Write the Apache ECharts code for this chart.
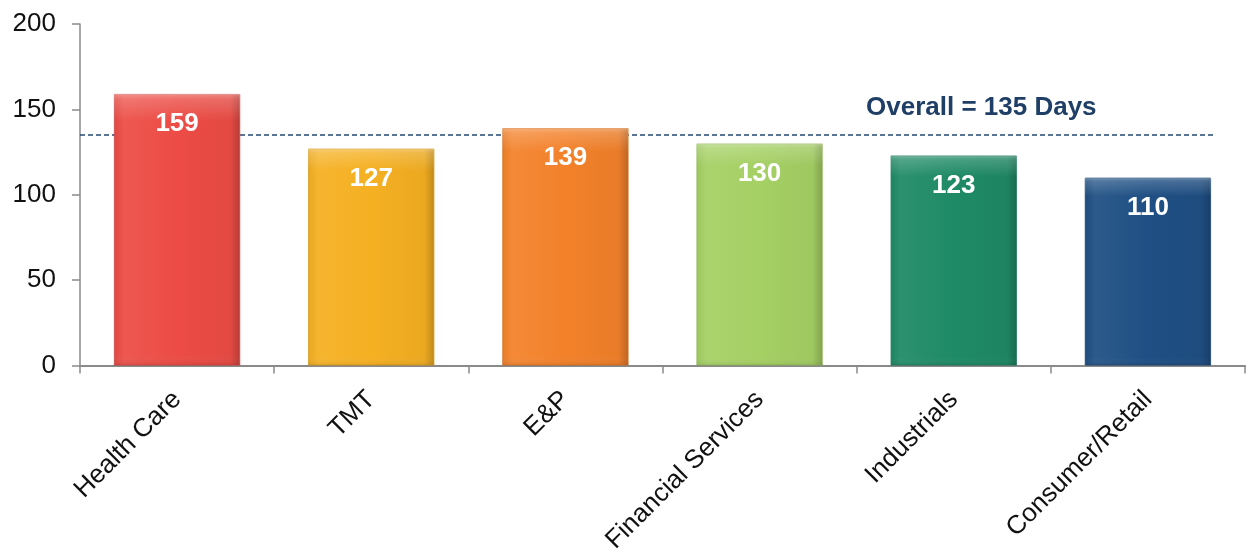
<!DOCTYPE html>
<html>
<head>
<meta charset="utf-8">
<script src="https://cdn.jsdelivr.net/npm/echarts@6/dist/echarts.min.js"></script>
<style>
  html, body { margin: 0; padding: 0; background: #ffffff; }
  #chart { width: 1246px; height: 556px; }
</style>
</head>
<body>
<div id="chart"></div>
<script>
// Average days by sector
const categories = ['Health Care', 'TMT', 'E&P', 'Financial Services', 'Industrials', 'Consumer/Retail'];
const days = [159, 127, 139, 130, 123, 110];
const barColors = ['#ec4c45', '#f5b022', '#f3812a', '#a5d064', '#1f8a66', '#1f4f84'];
const overallDays = 135;
const overallLabel = 'Overall = ' + overallDays + ' Days';
const yTicks = { min: 0, max: 200, interval: 50 };

function shade(hex, amt) {
  const n = parseInt(hex.slice(1), 16);
  let r = (n >> 16) & 255, g = (n >> 8) & 255, b = n & 255;
  const f = (c) => Math.max(0, Math.min(255, Math.round(amt < 0 ? c * (1 + amt) : c + (255 - c) * amt)));
  return 'rgb(' + f(r) + ',' + f(g) + ',' + f(b) + ')';
}

// Bevelled bars: darker side edges, lighter top rim
const barData = days.map((v, i) => ({
  value: v,
  itemStyle: {
    color: new echarts.graphic.LinearGradient(0, 0, 1, 0, [
      { offset: 0, color: shade(barColors[i], -0.05) },
      { offset: 0.08, color: shade(barColors[i], 0.06) },
      { offset: 0.5, color: barColors[i] },
      { offset: 0.92, color: shade(barColors[i], -0.04) },
      { offset: 1, color: shade(barColors[i], -0.22) }
    ]),
    borderColor: shade(barColors[i], -0.12),
    borderWidth: 0.8
  }
}));

const rimData = days.map((v) => ({
  value: v,
  itemStyle: {
    color: new echarts.graphic.LinearGradient(0, 0, 0, 1, [
      { offset: 0, color: 'rgba(255,255,255,0.35)' },
      { offset: 0.02, color: 'rgba(255,255,255,0.18)' },
      { offset: 0.1, color: 'rgba(255,255,255,0.0)' },
      { offset: 0.96, color: 'rgba(255,255,255,0.0)' },
      { offset: 1, color: 'rgba(0,0,0,0.08)' }
    ])
  }
}));

const axisGray = '#8a8a8a';
const chart = echarts.init(document.getElementById('chart'));
chart.setOption({
  animation: false,
  backgroundColor: '#ffffff',
  grid: { left: 80, right: 1, top: 24, bottom: 189, containLabel: false },
  xAxis: [{
    type: 'category',
    data: categories,
    boundaryGap: true,
    axisLine: { lineStyle: { color: axisGray, width: 2 } },
    axisTick: { show: true, length: 8, alignWithLabel: false, lineStyle: { color: axisGray, width: 1.5 } },
    axisLabel: {
      rotate: 45,
      interval: 0,
      margin: 30,
      color: '#111111',
      fontFamily: 'Liberation Sans, Arial, sans-serif',
      fontSize: 26
    }
  }, {
    // helper axis for the overall reference line extent
    type: 'value',
    min: 0, max: 6,
    show: false
  }],
  yAxis: {
    type: 'value',
    min: yTicks.min,
    max: yTicks.max,
    interval: yTicks.interval,
    splitLine: { show: false },
    axisLine: { show: true, lineStyle: { color: axisGray, width: 1.5 } },
    axisTick: { show: true, length: 8, lineStyle: { color: axisGray, width: 1.5 } },
    axisLabel: {
      margin: 24,
      color: '#111111',
      fontFamily: 'Liberation Sans, Arial, sans-serif',
      fontSize: 26
    }
  },
  series: [{
    type: 'bar',
    data: barData,
    barWidth: '65%',
    z: 2,
    label: {
      show: true,
      position: 'insideTop',
      distance: 17,
      color: '#ffffff',
      fontWeight: 'bold',
      fontFamily: 'Liberation Sans, Arial, sans-serif',
      fontSize: 26
    }
  }, {
    type: 'bar',
    data: rimData,
    barWidth: '65%',
    barGap: '-100%',
    z: 3,
    silent: true
  }, {
    type: 'line',
    xAxisIndex: 1,
    data: [[0, overallDays], [5.845, overallDays]],
    symbol: 'none',
    z: 1,
    lineStyle: { color: '#254a72', width: 1.5, type: [5, 3] }
  }],
  graphic: [{
    type: 'text',
    left: 866,
    top: 95,
    style: {
      text: overallLabel,
      fill: '#1f3f66',
      font: 'bold 26px "Liberation Sans", Arial, sans-serif'
    }
  }]
});
</script>
</body>
</html>
